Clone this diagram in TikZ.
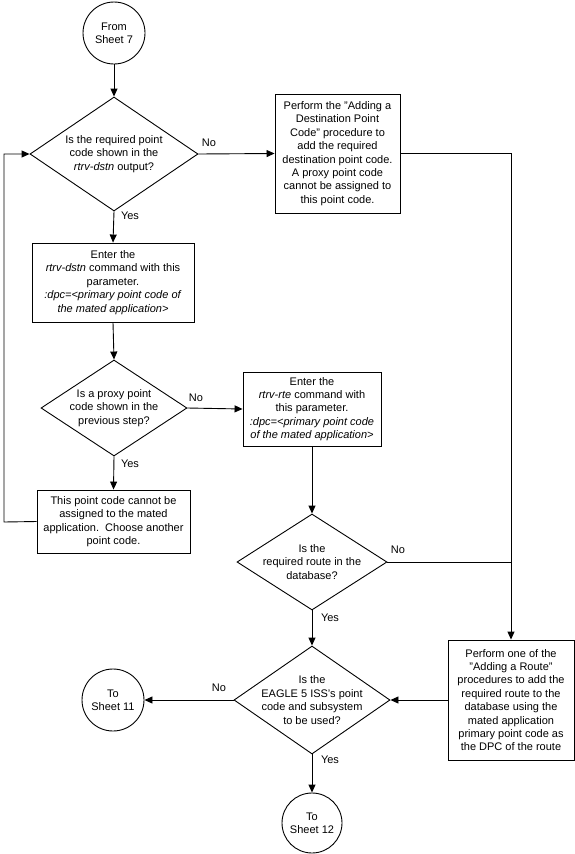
\documentclass[tikz,border=0pt]{standalone}
\usepackage{fontspec}
\setmainfont{Liberation Sans}
\usetikzlibrary{shapes.geometric,arrows.meta}
\begin{document}
\begin{tikzpicture}[x=1pt,y=-1pt,
  font=\fontsize{11}{13.4}\selectfont,
  box/.style={draw, line width=0.9pt, align=center, inner sep=0pt},
  dec/.style={draw, shape=diamond, line width=0.9pt, align=center, inner sep=-14pt},
  circ/.style={draw, circle, line width=0.9pt, inner sep=0pt, minimum size=62pt, align=center},
  lbl/.style={inner sep=0pt},
  conn/.style={line width=0.9pt},
  arr/.style={conn, -{Triangle[length=8pt,width=7pt]}}]
\useasboundingbox (0,0) rectangle (575,854);

% nodes
\node[circ] (c7) at (114,33) {From\\Sheet 7};
\node[dec, minimum width=168pt, minimum height=114pt] (d1) at (114,154)
  {Is the required point\\code shown in the\\\textit{rtrv-dstn} output?};
\node[box, minimum width=125pt, minimum height=119pt] (b1) at (337.5,153.5)
  {Perform the "Adding a\\Destination Point\\Code" procedure to\\add the required\\destination point code.\\A proxy point code\\cannot be assigned to\\this point code.};
\node[box, minimum width=162pt, minimum height=79pt] (b2) at (113,282.5)
  {Enter the\\\textit{rtrv-dstn} command with this\\parameter.\\\textit{:dpc=<primary point code of}\\\textit{the mated application>}};
\node[dec, minimum width=146pt, minimum height=96pt] (d2) at (114,408)
  {Is a proxy point\\code shown in the\\previous step?};
\node[box, minimum width=138pt, minimum height=74pt] (b3) at (312,409)
  {Enter the\\\textit{rtrv-rte} command with\\this parameter.\\\textit{:dpc=<primary point code}\\\textit{of the mated application>}};
\node[box, minimum width=153pt, minimum height=63pt] (b4) at (113.5,521.5)
  {This point code cannot be\\assigned to the mated\\application.\ \ Choose another\\point code.};
\node[dec, minimum width=150pt, minimum height=96pt] (d3) at (312,562)
  {Is the\\required route in the\\database?};
\node[dec, minimum width=156pt, minimum height=108pt] (d4) at (312,700)
  {Is the\\EAGLE 5 ISS's point\\code and subsystem\\to be used?};
\node[box, minimum width=126pt, minimum height=120pt] (rb) at (511,700)
  {Perform one of the\\"Adding a Route"\\procedures to add the\\required route to the\\database using the\\mated application\\primary point code as\\the DPC of the route};
\node[circ] (c11) at (113,700) {To\\Sheet 11};
\node[circ, minimum size=60pt] (c12) at (312,823) {To\\Sheet 12};
\coordinate (loop) at (4,522);

% connectors
\draw[arr] (c7) -- (d1.north);
\draw[arr] (d1.east) -- (b1.west);
\draw[arr] (b1.east) -| (rb.north);
\draw[conn] (d3.east) -- (d3.east -| rb.north);
\draw[arr] (d1.south) -- (b2.north);
\draw[arr] (b2.south) -- (d2.north);
\draw[arr] (d2.east) -- (b3.west);
\draw[arr] (d2.south) -- (b4.north);
\draw[arr] (b4.west) -- (loop) |- (d1.west);
\draw[arr] (b3.south) -- (d3.north);
\draw[arr] (d3.south) -- (d4.north);
\draw[arr] (rb.west) -- (d4.east);
\draw[arr] (d4.west) -- (c11.east);
\draw[arr] (d4.south) -- (c12.north);

% labels
\node[lbl] (n1) at (209,143) {No};
\node[lbl] (y1) at (130,216) {Yes};
\node[lbl] (n2) at (196,398) {No};
\node[lbl] (y2) at (130,464) {Yes};
\node[lbl] (n3) at (398,550) {No};
\node[lbl] (y3) at (330,618) {Yes};
\node[lbl] (n4) at (219,688) {No};
\node[lbl] (y4) at (330,760) {Yes};
\end{tikzpicture}
\end{document}
